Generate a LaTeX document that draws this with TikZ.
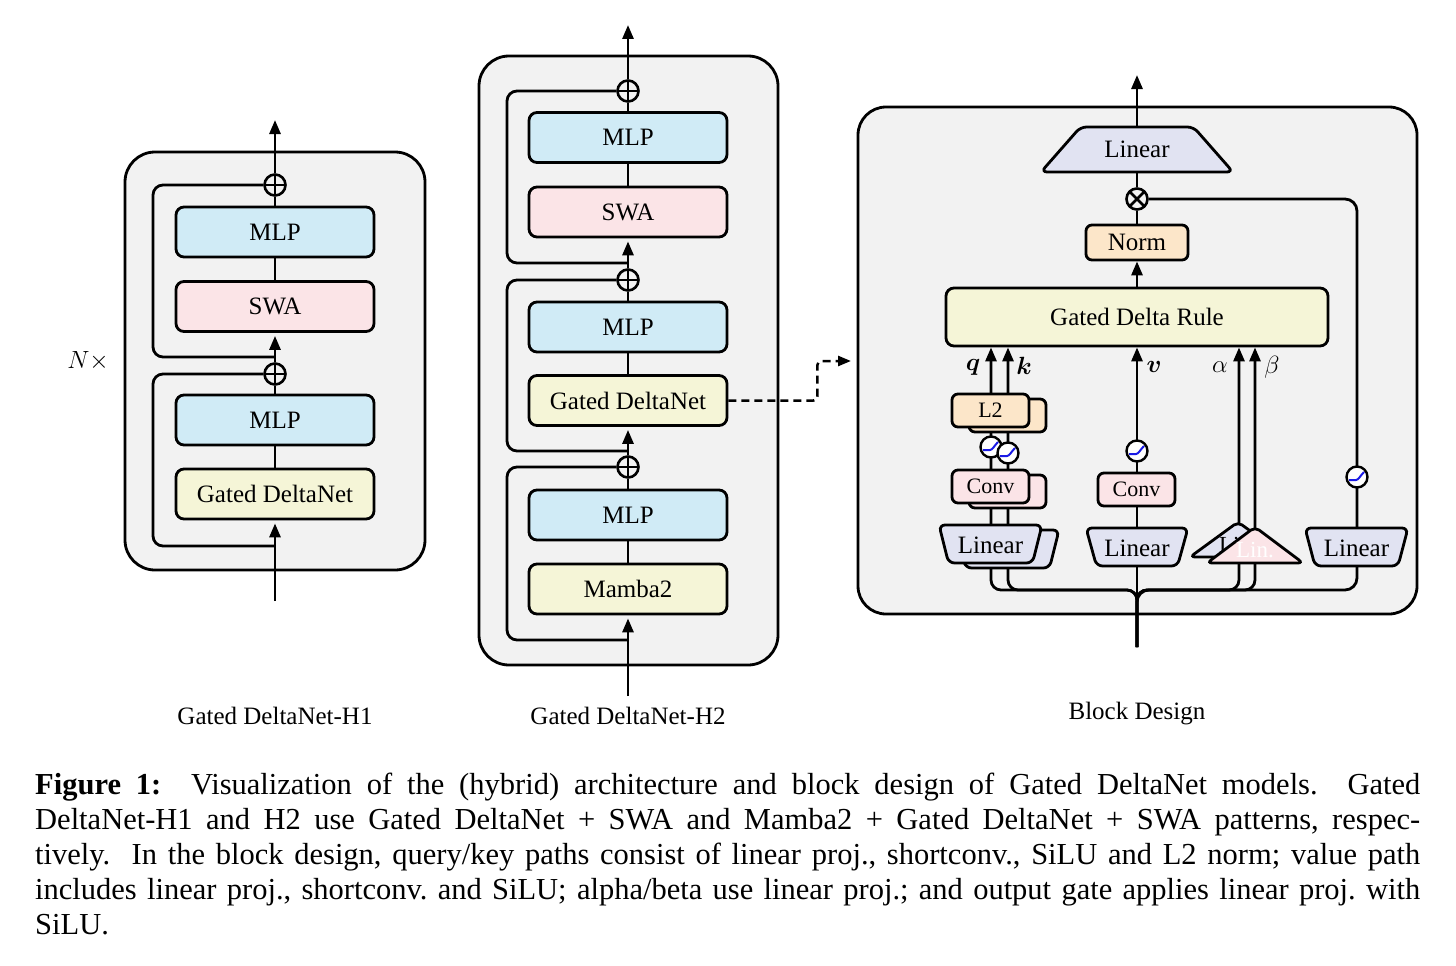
\documentclass[tikz,border=0pt]{standalone}
\usepackage{fontspec}
\setmainfont{Liberation Serif}
\usepackage{bm}
\usetikzlibrary{arrows.meta}
\pgfdeclarelayer{panel}
\pgfdeclarelayer{lines}
\pgfsetlayers{panel,lines,main}
\definecolor{panelgray}{HTML}{F2F2F2}
\definecolor{mlpblue}{HTML}{D0EBF6}
\definecolor{swapink}{HTML}{FBE4E7}
\definecolor{gdnyellow}{HTML}{F5F5D7}
\definecolor{linlav}{HTML}{E1E3F2}
\definecolor{normpeach}{HTML}{FCE6C9}
\definecolor{silublue}{HTML}{1A1AE6}
\tikzset{
  lw/.style={line width=2.8pt},
  conn/.style={line width=2.8pt},
  arr/.style={conn, -{Triangle[length=14pt,width=11pt]}},
  arrb/.style={arr, shorten >=3pt},
  dasharrow/.style={line width=2.5pt, dash pattern=on 8pt off 5pt, -{Triangle[length=13pt,width=10pt]}},
  blk/.style={draw, line width=2.8pt, rounded corners=8pt, minimum width=198pt, minimum height=50pt, inner sep=0pt},
  sbox/.style={draw, line width=2.8pt, rounded corners=6pt, minimum width=77pt, minimum height=33pt, inner sep=0pt, font=\fontsize{22}{26}\selectfont},
  txt/.style={inner sep=0pt},
  oplus/.style={circle, draw, line width=2.6pt, minimum size=21pt, inner sep=0pt, fill=panelgray,
    path picture={\draw[line width=2.6pt] (path picture bounding box.north) -- (path picture bounding box.south)
      (path picture bounding box.west) -- (path picture bounding box.east);}},
  otimes/.style={circle, draw, line width=2.6pt, minimum size=21pt, inner sep=0pt, fill=panelgray,
    path picture={\draw[line width=2.6pt] (path picture bounding box.north west) -- (path picture bounding box.south east)
      (path picture bounding box.south west) -- (path picture bounding box.north east);}},
  silu/.style={circle, draw, line width=2.4pt, minimum size=21pt, inner sep=0pt, fill=white,
    path picture={\draw[silublue, line width=2pt]
      ([shift={(-8pt,-3pt)}]path picture bounding box.center) -- ([shift={(-1pt,-3pt)}]path picture bounding box.center)
      .. controls ([shift={(1.5pt,-3pt)}]path picture bounding box.center) and ([shift={(3pt,1pt)}]path picture bounding box.center)
      .. ([shift={(7pt,5pt)}]path picture bounding box.center);}},
}
\newcommand\trapezd[6]{% cx, ytop, ybot, top half width, bottom half width, fill
  \path[draw, line width=2.8pt, fill=#6, rounded corners=6pt] (#1-#4,#2) -- (#1+#4,#2) -- (#1+#5,#3) -- (#1-#5,#3) -- cycle;}
\newcommand\triangd[5]{% apex x, apex y, base y, half width, fill
  \path[draw, line width=2.8pt, fill=#5, rounded corners=5pt] (#1,#2) -- (#1+#4,#3) -- (#1-#4,#3) -- cycle;}
\begin{document}
\begin{tikzpicture}[x=1pt,y=-1pt,font=\fontsize{25}{30}\selectfont]
\useasboundingbox (0,0) rectangle (1456,966);

% ---------------- panels
\begin{pgfonlayer}{panel}
\draw[lw, fill=panelgray, rounded corners=30pt] (125,152) rectangle (425,570);
\draw[lw, fill=panelgray, rounded corners=30pt] (479,56) rectangle (778,665);
\draw[lw, fill=panelgray, rounded corners=28pt] (858,107) rectangle (1417,614);
\end{pgfonlayer}

% ---------------- H1
\node[blk, fill=mlpblue] (a1) at (275,232) {MLP};
\node[blk, fill=swapink] (a2) at (275,306.5) {SWA};
\node[blk, fill=mlpblue] (a3) at (275,420) {MLP};
\node[blk, fill=gdnyellow] (a4) at (275,494) {Gated DeltaNet};
\node[oplus] (ap1) at (275,185) {};
\node[oplus] (ap2) at (275,374) {};
\coordinate (ain) at (275,601);
\coordinate (aout) at (275,120);
\coordinate (ab1) at (275,357);
\coordinate (ab2) at (275,546);
\coordinate (aL) at (153,0);
\node[txt] (aN) at (88,361) {$N\times$};
\node[txt] (alab) at (275,716) {Gated DeltaNet-H1};

% ---------------- H2
\node[oplus] (bp1) at (628,91) {};
\node[blk, fill=mlpblue] (b1) at (628,137.5) {MLP};
\node[blk, fill=swapink] (b2) at (628,212) {SWA};
\node[oplus] (bp2) at (628,280) {};
\node[blk, fill=mlpblue] (b3) at (628,327) {MLP};
\node[blk, fill=gdnyellow] (b4) at (628,400.5) {Gated DeltaNet};
\node[oplus] (bp3) at (628,467) {};
\node[blk, fill=mlpblue] (b5) at (628,515) {MLP};
\node[blk, fill=gdnyellow] (b6) at (628,589) {Mamba2};
\coordinate (bin) at (628,696);
\coordinate (bout) at (628,25);
\coordinate (bb1) at (628,263);
\coordinate (bb2) at (628,451);
\coordinate (bb3) at (628,640);
\coordinate (bL) at (507,0);
\coordinate (bdin) at (851,361);
\node[txt] (blab) at (628,716) {Gated DeltaNet-H2};

% ---------------- Block design
\trapezd{1137}{127}{172}{56.5}{96}{linlav}
\node[txt] (tlin) at (1137,149.5) {Linear};
\node[otimes] (ot) at (1137,199) {};
\node[sbox, fill=normpeach, minimum width=102pt, minimum height=35pt, font=\fontsize{25}{30}\selectfont] (norm) at (1137,242.5) {Norm};
\node[blk, fill=gdnyellow, minimum width=382pt, minimum height=58pt] (gdr) at (1137,317) {Gated Delta Rule};
\coordinate (cout) at (1137,75);

% q/k stack (back copies first)
\trapezd{1007.5}{530}{568}{51.5}{42}{linlav}
\node[sbox, fill=swapink] (convk) at (1007.5,491.5) {};
\node[sbox, fill=normpeach] (l2k) at (1007.5,415.5) {};
\trapezd{990.5}{525}{563}{51.5}{42}{linlav}
\node[txt] (linq) at (990.5,545) {Linear};
\node[sbox, fill=swapink] (convq) at (990.5,486.5) {Conv};
\node[sbox, fill=normpeach] (l2q) at (990.5,410.5) {L2};
\node[silu] (sq) at (991,447) {};
\node[silu] (sk) at (1008,453) {};

% v path
\trapezd{1137}{528}{566}{51}{40.5}{linlav}
\node[txt] (linv) at (1137,548) {Linear};
\node[sbox, fill=swapink] (convv) at (1136.5,489.5) {Conv};
\node[silu] (sv) at (1137,451) {};

% alpha / beta
\triangd{1238}{522}{557}{48}{linlav}
\node[txt, font=\fontsize{23}{26}\selectfont] (linab) at (1238,545) {Lin.};
\triangd{1255}{527}{563}{48}{swapink}
\node[txt, font=\fontsize{23}{26}\selectfont, text=white] (linb) at (1255,550) {Lin.};

% gate
\trapezd{1356.5}{528}{566}{51.5}{41.5}{linlav}
\node[txt] (ling) at (1356.5,548) {Linear};
\node[silu] (sg) at (1357,477) {};

\coordinate (tin) at (1137,647);
\coordinate (jn) at (1137,590);
\coordinate (qbus) at (991,590);
\coordinate (kbus) at (1008,590);
\coordinate (abus) at (1239,590);
\coordinate (bbus) at (1255,590);
\coordinate (gbus) at (1357,590);

\node[txt] (lq) at (973,367) {$\bm{q}$};
\node[txt] (lk) at (1024,366) {$\bm{k}$};
\node[txt] (lv) at (1154,367) {$\bm{v}$};
\node[txt] (la) at (1220,367) {$\alpha$};
\node[txt] (lb) at (1272,367) {$\beta$};
\node[txt] (clab) at (1137,714) {Block Design};

% ---------------- connectors
\begin{pgfonlayer}{lines}
% H1
\draw[arrb] (ain) -- (a4);
\draw[conn] (a4) -- (a3);
\draw[conn] (a3) -- (ap2);
\draw[arrb] (ap2) -- (a2);
\draw[conn] (a2) -- (a1);
\draw[conn] (a1) -- (ap1);
\draw[arr] (ap1) -- (aout);
\draw[conn, rounded corners=10pt] (ab2) -| (aL |- ap2) -- (ap2);
\draw[conn, rounded corners=10pt] (ab1) -| (aL |- ap1) -- (ap1);
% H2
\draw[arrb] (bin) -- (b6);
\draw[conn] (b6) -- (b5);
\draw[conn] (b5) -- (bp3);
\draw[arrb] (bp3) -- (b4);
\draw[conn] (b4) -- (b3);
\draw[conn] (b3) -- (bp2);
\draw[arrb] (bp2) -- (b2);
\draw[conn] (b2) -- (b1);
\draw[conn] (b1) -- (bp1);
\draw[arr] (bp1) -- (bout);
\draw[conn, rounded corners=10pt] (bb3) -| (bL |- bp3) -- (bp3);
\draw[conn, rounded corners=10pt] (bb2) -| (bL |- bp2) -- (bp2);
\draw[conn, rounded corners=10pt] (bb1) -| (bL |- bp1) -- (bp1);
\draw[dasharrow, rounded corners=4pt] (b4.east) -- ++(89,0) |- (bdin);
% Block design top
\draw[arr] (gdr) -- (norm);
\draw[conn] (norm) -- (ot);
\draw[conn] (ot) -- (tlin.center);
\draw[arr] (tlin.center) -- (cout);
% bus
\draw[arr] (tin) -- (gdr.south -| jn);
\draw[arr, rounded corners=10pt] (tin) -- (jn) -- (qbus) -- (gdr.south -| qbus);
\draw[arr, rounded corners=10pt] (tin) -- (jn) -- (kbus) -- (gdr.south -| kbus);
\draw[arr, rounded corners=10pt] (tin) -- (jn) -- (abus) -- (gdr.south -| abus);
\draw[arr, rounded corners=10pt] (tin) -- (jn) -- (bbus) -- (gdr.south -| bbus);
\draw[conn, rounded corners=12pt] (tin) -- (jn) -- (gbus) -- (gbus |- ot) -- (ot);
\end{pgfonlayer}

% ---------------- caption
\node[anchor=base west, inner sep=0pt, font=\fontsize{30.5}{35}\selectfont] (cap) at (35,794) {\parbox[t]{1385pt}{\frenchspacing
\makebox[1385pt][s]{\textbf{Figure 1:}\ \ Visualization of the (hybrid) architecture and block design of Gated DeltaNet models.\ \ Gated}\\
\makebox[1385pt][s]{DeltaNet-H1 and H2 use Gated DeltaNet + SWA and Mamba2 + Gated DeltaNet + SWA patterns, respec-}\\
\makebox[1385pt][s]{tively.\ \ In the block design, query/key paths consist of linear proj., shortconv., SiLU and L2 norm; value path}\\
\makebox[1385pt][s]{includes linear proj., shortconv. and SiLU; alpha/beta use linear proj.; and output gate applies linear proj. with}\\
SiLU.}};
\end{tikzpicture}
\end{document}
